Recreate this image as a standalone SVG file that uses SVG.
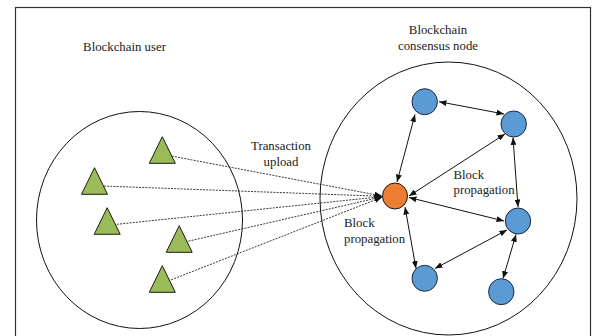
<svg xmlns="http://www.w3.org/2000/svg" width="592" height="336" viewBox="0 0 592 336">
<style>
.lbl{font-family:"Liberation Serif","Times New Roman",serif;font-size:12.8px;fill:#222}
.tri{fill:#9BBB59;stroke:#1a1a1a;stroke-width:1}
.blue{fill:#5B9BD5;stroke:#1a2a3a;stroke-width:1}
.orange{fill:#ED7D31;stroke:#1a1a1a;stroke-width:1}
.edge{stroke:#111;stroke-width:1;fill:none;marker-start:url(#ah);marker-end:url(#ah)}
.dot{stroke:#222;stroke-width:0.9;fill:none;stroke-dasharray:2 1.2;marker-end:url(#ah)}
.region{fill:none;stroke:#111;stroke-width:1}
</style>
<defs>
<marker id="ah" viewBox="0 0 10 10" refX="10" refY="5" markerWidth="7.5" markerHeight="6" markerUnits="userSpaceOnUse" orient="auto-start-reverse" preserveAspectRatio="none">
<path d="M0,0 L10,5 L0,10 z" fill="#111"/>
</marker>
</defs>
<rect x="0" y="0" width="592" height="336" fill="#fff"/>
<rect x="15.5" y="7.5" width="575" height="340" fill="none" stroke="#333" stroke-width="1.2"/>
<g id="user-region">
<ellipse class="region" cx="139.5" cy="220" rx="103" ry="108.5"/>
<text class="lbl" x="124.5" y="51" text-anchor="middle">Blockchain user</text>
</g>
<g id="consensus-region">
<ellipse class="region" cx="448.5" cy="198.5" rx="128.5" ry="136.5"/>
<text class="lbl" x="438" y="34" text-anchor="middle">Blockchain</text>
<text class="lbl" x="438" y="50" text-anchor="middle">consensus node</text>
</g>
<g id="connectors">
<line class="dot" x1="162.3" y1="154.3" x2="382" y2="196"/>
<line class="dot" x1="94.3" y1="185.7" x2="382" y2="196.3"/>
<line class="dot" x1="107.3" y1="225.3" x2="382" y2="196.6"/>
<line class="dot" x1="179" y1="243.3" x2="382" y2="196.9"/>
<line class="dot" x1="162.3" y1="283.3" x2="382" y2="197.2"/>
<line class="edge" x1="415" y1="114.5" x2="397" y2="182"/>
<line class="edge" x1="439" y1="101.7" x2="504" y2="114"/>
<line class="edge" x1="505" y1="134" x2="409" y2="196"/>
<line class="edge" x1="513" y1="137.5" x2="518" y2="207"/>
<line class="edge" x1="409" y1="197.5" x2="504" y2="221"/>
<line class="edge" x1="405" y1="207" x2="416" y2="268.5"/>
<line class="edge" x1="507" y1="230" x2="435" y2="268.5"/>
<line class="edge" x1="516" y1="234.5" x2="503" y2="278.5"/>
</g>
<g id="label-transaction">
<text class="lbl" x="281" y="149.5" text-anchor="middle">Transaction</text>
<text class="lbl" x="281" y="165.7" text-anchor="middle">upload</text>
</g>
<g id="label-propagation-right">
<text class="lbl" x="453.5" y="179">Block</text>
<text class="lbl" x="453.5" y="193.5">propagation</text>
</g>
<g id="label-propagation-left">
<text class="lbl" x="344" y="227">Block</text>
<text class="lbl" x="344" y="243">propagation</text>
</g>
<g id="user1"><polygon class="tri" points="162.3,136.7 175.3,163.3 149.3,163.3"/></g>
<g id="user2"><polygon class="tri" points="94.5,167.7 107.5,194.3 81.5,194.3"/></g>
<g id="user3"><polygon class="tri" points="107.2,207.7 120.2,234.3 94.2,234.3"/></g>
<g id="user4"><polygon class="tri" points="179.2,225.7 192.2,252.3 166.2,252.3"/></g>
<g id="user5"><polygon class="tri" points="162.3,265.7 175.3,292.3 149.3,292.3"/></g>
<g id="node-orange"><ellipse class="orange" cx="395" cy="196" rx="12.5" ry="13"/></g>
<g id="node1"><ellipse class="blue" cx="424.7" cy="101.7" rx="12.7" ry="13"/></g>
<g id="node2"><ellipse class="blue" cx="513.7" cy="124" rx="12.7" ry="13"/></g>
<g id="node3"><ellipse class="blue" cx="518" cy="221" rx="12.7" ry="13"/></g>
<g id="node4"><ellipse class="blue" cx="424.7" cy="278.3" rx="12.7" ry="13"/></g>
<g id="node5"><ellipse class="blue" cx="501.3" cy="291.7" rx="12.7" ry="13"/></g>
</svg>
